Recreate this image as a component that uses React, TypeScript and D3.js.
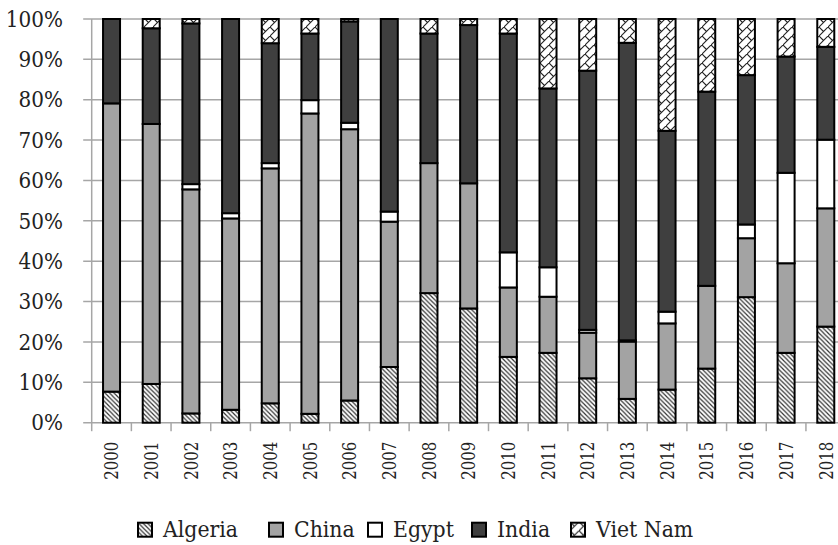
import React from 'react'
import * as d3 from 'd3'

const years = ['2000', '2001', '2002', '2003', '2004', '2005', '2006', '2007', '2008', '2009',
    '2010', '2011', '2012', '2013', '2014', '2015', '2016', '2017', '2018']
const countries = ['Algeria', 'China', 'Egypt', 'India', 'Viet Nam']

// shares in percent
const algeria = [7.7, 9.6, 2.3, 3.2, 4.8, 2.2, 5.5, 13.8, 32.1, 28.3, 16.3, 17.3, 11.0, 5.9, 8.2, 13.4, 31.1, 17.3, 23.8]
const china = [71.4, 64.4, 55.5, 47.4, 58.2, 74.4, 67.2, 36.0, 32.2, 31.0, 17.2, 13.9, 11.3, 14.2, 16.4, 20.5, 14.6, 22.2, 29.3]
const egypt = [0, 0, 1.3, 1.3, 1.3, 3.3, 1.6, 2.5, 0, 0, 8.7, 7.3, 0.7, 0.3, 2.9, 0, 3.4, 22.4, 17.0]
const india = [20.9, 23.7, 39.8, 48.1, 29.7, 16.5, 25.1, 47.7, 32.1, 39.2, 54.2, 44.3, 64.2, 73.7, 44.8, 48.1, 37.0, 28.8, 23.0]
const vietNam = [0, 2.3, 1.1, 0, 6.0, 3.6, 0.6, 0, 3.6, 1.5, 3.6, 17.2, 12.8, 5.9, 27.7, 18.0, 13.9, 9.3, 6.9]
const yTicks = [0, 10, 20, 30, 40, 50, 60, 70, 80, 90, 100]

const series = [algeria, china, egypt, india, vietNam]
const rows = years.map((year, i) => {
    const r: any = { year }
    countries.forEach((c, j) => (r[c] = series[j][i]))
    return r
})

const fills = ['url(#algeria)', '#a3a3a3', '#ffffff', '#3f3f3f', 'url(#vietnam)']

const width = 838
const height = 545
const margin = { left: 91.7, top: 19, bottom: 122.3 }
const band = 39.68
const barW = 17
const textStyle = { fontFamily: 'DejaVu Serif', fill: '#222' }

export default function App() {
    const stack = d3.stack().keys(countries)(rows as any)

    const x = d3.scaleBand()
        .domain(years)
        .range([margin.left, margin.left + band * years.length])

    const y = d3.scaleLinear()
        .domain([0, 100])
        .range([height - margin.bottom, margin.top])

    const right = margin.left + band * years.length
    const bottom = y(0)

    const legendX = [137, 268, 367, 471, 570]

    return (
        <svg width={width} height={height} style={{ position: 'absolute', left: 0, top: 0, background: '#fff' }}>
            <defs>
                <pattern id="algeria" patternUnits="userSpaceOnUse" width="4.5" height="4.5">
                    <rect width="4.5" height="4.5" fill="#fff" />
                    <path d="M-1,-1 L5.5,5.5 M-1,3.5 L1,5.5 M3.5,-1 L5.5,1" stroke="#333" strokeWidth="1.2" />
                </pattern>
                <pattern id="vietnam" patternUnits="userSpaceOnUse" width="9" height="9">
                    <rect width="9" height="9" fill="#fff" />
                    <path d="M-1,10 L10,-1 M0,0 L4.5,4.5" stroke="#222" strokeWidth="1.1" fill="none" />
                </pattern>
            </defs>

            {/* gridlines */}
            {yTicks.map(t => (
                <line key={t} x1={margin.left - 8.5} x2={right} y1={y(t)} y2={y(t)}
                    stroke="#a6a6a6" strokeWidth={1.5} />
            ))}
            <line x1={margin.left} x2={margin.left} y1={y(100)} y2={bottom} stroke="#a6a6a6" strokeWidth={1.5} />
            {d3.range(years.length + 1).map(i => (
                <line key={i} x1={margin.left + i * band} x2={margin.left + i * band} y1={bottom} y2={bottom + 8.5}
                    stroke="#a6a6a6" strokeWidth={1.5} />
            ))}

            {/* y labels */}
            {yTicks.map(t => (
                <text key={t} style={textStyle} transform={`translate(63,${y(t)}) scale(0.93,1)`}
                    dy="0.36em" textAnchor="end" fontSize={21.5}>{t}%</text>
            ))}

            {/* bars */}
            {stack.map((layer, j) => (
                <g key={countries[j]} fill={fills[j]} stroke="#000" strokeWidth={2}>
                    {layer.map((d, i) => d[1] - d[0] > 0 ? (
                        <rect key={i}
                            x={x(years[i])! + (band - barW) / 2}
                            width={barW}
                            y={y(d[1])}
                            height={y(d[0]) - y(d[1])} />
                    ) : null)}
                </g>
            ))}

            {/* year labels */}
            {years.map(yr => (
                <text key={yr} style={textStyle}
                    transform={`translate(${x(yr)! + band / 2},${bottom + 19}) scale(1.1,0.88) rotate(-90)`}
                    dy="0.36em" textAnchor="end" fontSize={17}>{yr}</text>
            ))}

            {/* legend */}
            {countries.map((c, j) => (
                <g key={c} transform={`translate(${legendX[j]},521.7)`}>
                    <rect x={1} y={1} width={14} height={14} fill={fills[j]} stroke="#000" strokeWidth={2} />
                    <text style={textStyle} transform="translate(26,15.5) scale(0.93,1)" fontSize={22}>{c}</text>
                </g>
            ))}
        </svg>
    )
}
